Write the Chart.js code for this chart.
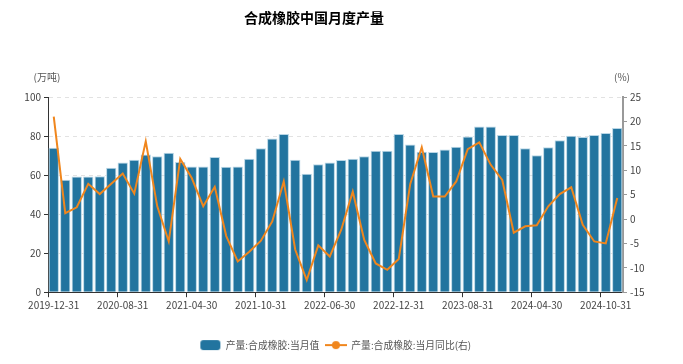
<!DOCTYPE html>
<html>
<head>
<meta charset="utf-8">
<script src="https://cdn.jsdelivr.net/npm/chart.js@4"></script>
<style>
  body { margin: 0; background: #fff; }
  #wrap { width: 683px; height: 364px; }
</style>
</head>
<body>
<div id="wrap"><canvas id="chart" width="683" height="364"></canvas></div>
<script>
const months = [
  '2019-12-31',
  '2020-03-31', '2020-04-30', '2020-05-31', '2020-06-30', '2020-07-31', '2020-08-31', '2020-09-30', '2020-10-31', '2020-11-30', '2020-12-31',
  '2021-03-31', '2021-04-30', '2021-05-31', '2021-06-30', '2021-07-31', '2021-08-31', '2021-09-30', '2021-10-31', '2021-11-30', '2021-12-31',
  '2022-03-31', '2022-04-30', '2022-05-31', '2022-06-30', '2022-07-31', '2022-08-31', '2022-09-30', '2022-10-31', '2022-11-30', '2022-12-31',
  '2023-03-31', '2023-04-30', '2023-05-31', '2023-06-30', '2023-07-31', '2023-08-31', '2023-09-30', '2023-10-31', '2023-11-30', '2023-12-31',
  '2024-03-31', '2024-04-30', '2024-05-31', '2024-06-30', '2024-07-31', '2024-08-31', '2024-09-30', '2024-10-31', '2024-11-30',
]

// 产量:合成橡胶:当月值 (万吨)
const output = [
  74.0, 57.6, 59.3, 59.3, 59.4, 63.7, 66.5, 67.8, 70.6, 69.7,
  71.4, 66.7, 64.4, 64.4, 69.2, 64.3, 64.4, 68.4, 73.8, 78.8,
  81.0, 67.8, 60.7, 65.6, 66.5, 67.7, 68.4, 69.7, 72.5, 72.5,
  81.0, 75.7, 71.9, 71.8, 73.1, 74.5, 79.8, 84.9, 84.9, 80.5,
  80.5, 73.8, 70.2, 74.2, 77.9, 80.2, 79.5, 80.5, 81.5, 84.1,
]

// 产量:合成橡胶:当月同比 (%)
const yoy = [
  21.0, 1.2, 2.4, 7.2, 5.1, 7.2, 9.3, 5.2, 15.9, 2.6,
  -4.6, 12.3, 8.4, 2.6, 6.6, -3.5, -8.7, -6.7, -4.5, -0.5,
  7.7, -6.3, -12.5, -5.4, -7.7, -2.2, 5.6, -4.3, -9.1, -10.4,
  -8.2, 7.2, 14.7, 4.6, 4.6, 7.7, 14.3, 15.7, 11.1, 8.0,
  -2.8, -1.5, -1.3, 2.6, 5.1, 6.5, -1.2, -4.6, -5.0, 4.3,
]

const BAR_COLOR = '#22749f'
const LINE_COLOR = '#f0861d'
const FONT = "'Noto Sans CJK SC', 'Noto Sans', sans-serif"

function makeIcon(draw) {
  const c = document.createElement('canvas')
  c.width = 22
  c.height = 12
  draw(c.getContext('2d'))
  return c
}

const barIcon = makeIcon((g) => {
  g.fillStyle = BAR_COLOR
  g.beginPath()
  g.roundRect(1, 1, 20, 10, 3)
  g.fill()
})

const lineIcon = makeIcon((g) => {
  g.strokeStyle = LINE_COLOR
  g.lineWidth = 2
  g.beginPath()
  g.moveTo(0, 6)
  g.lineTo(22, 6)
  g.stroke()
  g.fillStyle = LINE_COLOR
  g.beginPath()
  g.arc(11, 6, 4, 0, Math.PI * 2)
  g.fill()
})

// title and unit labels
const extraText = {
  id: 'extraText',
  afterDraw(chart) {
    const ctx = chart.ctx
    ctx.save()
    ctx.fillStyle = '#000'
    ctx.font = 'bold 14px ' + FONT
    ctx.textAlign = 'center'
    ctx.textBaseline = 'middle'
    ctx.fillText('合成橡胶中国月度产量', 314, 18)
    ctx.fillStyle = '#555'
    ctx.font = '10px ' + FONT
    ctx.fillText('(万吨)', 47, 77)
    ctx.fillText('(%)', 622, 77)
    ctx.restore()
  },
}

Chart.defaults.font.family = FONT
Chart.defaults.font.size = 10
Chart.defaults.color = '#444'

new Chart(document.getElementById('chart'), {
  data: {
    labels: months,
    datasets: [
      {
        type: 'bar',
        label: '产量:合成橡胶:当月值',
        data: output,
        yAxisID: 'y',
        backgroundColor: BAR_COLOR,
        borderColor: '#b9d6e6',
        borderWidth: 1,
        barPercentage: 0.9,
        categoryPercentage: 1,
        order: 1,
      },
      {
        type: 'line',
        label: '产量:合成橡胶:当月同比(右)',
        data: yoy,
        yAxisID: 'y1',
        borderColor: LINE_COLOR,
        borderWidth: 2,
        pointRadius: 0,
        tension: 0,
        order: 0,
      },
    ],
  },
  options: {
    responsive: false,
    devicePixelRatio: 1,
    animation: false,
    layout: { padding: { top: 97, left: 0, right: 12, bottom: 4 } },
    plugins: {
      tooltip: { enabled: false },
      legend: {
        position: 'bottom',
        labels: {
          color: '#555',
          font: { size: 9.8 },
          usePointStyle: true,
          pointStyleWidth: 21,
          boxHeight: 10,
          padding: 6,
          generateLabels(chart) {
            const items = Chart.defaults.plugins.legend.labels.generateLabels(chart)
            items.sort((a, b) => a.datasetIndex - b.datasetIndex)
            items[0].pointStyle = barIcon
            items[1].pointStyle = lineIcon
            return items
          },
        },
      },
    },
    scales: {
      x: {
        offset: true,
        grid: {
          offset: true,
          drawOnChartArea: false,
          tickLength: 5,
          tickColor: (ctx) => (ctx.index % 6 === 0 ? '#333' : 'rgba(0,0,0,0)'),
        },
        border: { color: '#333', width: 1 },
        ticks: {
          autoSkip: false,
          maxRotation: 0,
          color: '#444',
          padding: 2,
          callback: function (val, i) {
            return i % 6 === 0 ? this.getLabelForValue(val) : ''
          },
        },
        afterFit: (scale) => {
          scale.height = 42
        },
      },
      y: {
        position: 'left',
        min: 0,
        max: 100,
        ticks: { stepSize: 20, color: '#444', padding: 3 },
        grid: { color: '#e2e2e2', tickColor: '#333', tickLength: 4 },
        border: { color: '#333', width: 1, dash: [4, 4] },
        afterFit: (scale) => {
          scale.width = 48
        },
      },
      y1: {
        position: 'right',
        min: -15,
        max: 25,
        ticks: { stepSize: 5, color: '#444', padding: 3 },
        grid: { drawOnChartArea: false, tickColor: '#999', tickLength: 4 },
        border: { color: '#999', width: 2 },
        afterFit: (scale) => {
          scale.width = 48
        },
      },
    },
  },
  plugins: [extraText],
})
</script>
</body>
</html>
